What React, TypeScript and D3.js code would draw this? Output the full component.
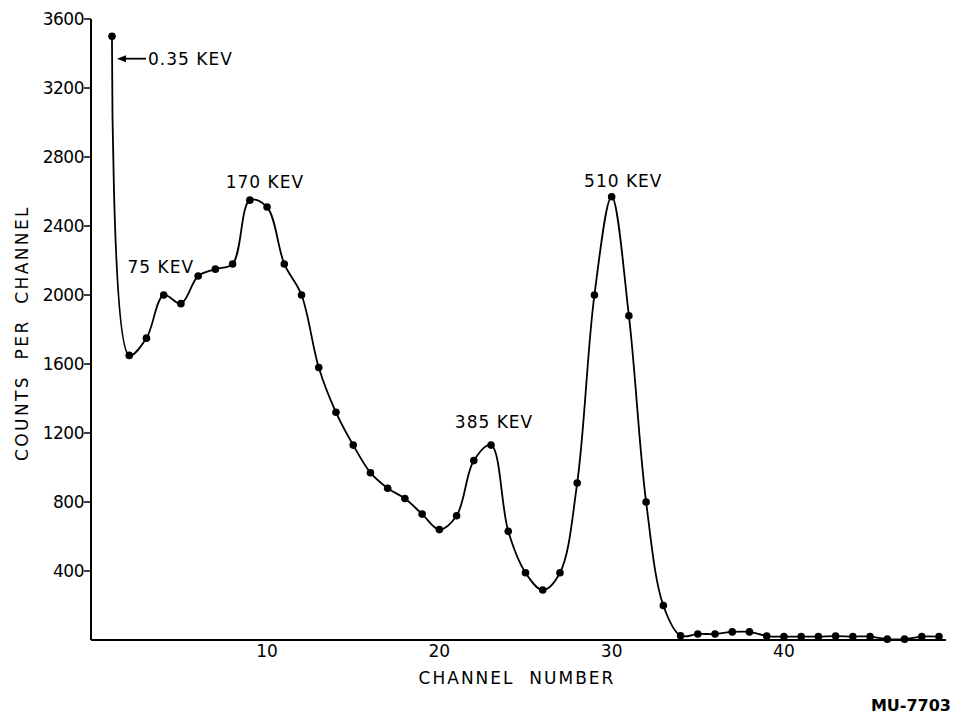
import React from "react";
import * as d3 from "d3";

const channels = [1,2,3,4,5,6,7,8,9,10,11,12,13,14,15,16,17,18,19,20,21,22,23,24,25,26,27,28,29,30,31,32,33,34,35,36,37,38,39,40,41,42,43,44,45,46,47,48,49];
const counts = [3500,1650,1750,2000,1950,2110,2150,2180,2550,2510,2180,2000,1580,1320,1130,970,880,820,730,640,720,1040,1130,630,390,290,390,910,2000,2570,1880,800,200,25,35,35,47,47,23,20,20,20,23,20,20,5,5,20,20];
const yTicks = [400,800,1200,1600,2000,2400,2800,3200,3600];
const xTicks = [10,20,30,40];
const peakLabels = [
  { text: "75 KEV", ch: 1.9, v: 2130 },
  { text: "170 KEV", ch: 7.6, v: 2620 },
  { text: "385 KEV", ch: 20.9, v: 1230 },
  { text: "510 KEV", ch: 28.4, v: 2625 },
];

export default function App() {
  const W = 961, H = 718;
  const x = d3.scaleLinear().domain([1, 49]).range([112, 939]);
  const y = d3.scaleLinear().domain([0, 3600]).range([640, 19]);
  const x0 = 91;
  const xEnd = 946;
  const pts: [number, number][] = channels.map((c, i) => [x(c), y(counts[i])]);
  const line = d3.line().curve(d3.curveCatmullRom.alpha(0.5));
  const font = "'DejaVu Sans', sans-serif";
  const arrowY = y(3370);
  const sp = "\u00a0\u00a0";
  return (
    <svg width={W} height={H} style={{ position: "absolute", left: 0, top: 0, background: "#fff" }} fontFamily={font}>
      <rect width={W} height={H} fill="#fff" />
      {/* axes */}
      <line x1={x0} y1={y(3600)} x2={x0} y2={y(0)} stroke="#000" strokeWidth={2} />
      <line x1={x0} y1={y(0)} x2={xEnd} y2={y(0)} stroke="#000" strokeWidth={2} />
      {yTicks.map((t) => (
        <g key={t}>
          <line x1={x0 - 7} x2={x0} y1={y(t)} y2={y(t)} stroke="#000" strokeWidth={1.5} />
          <text x={x0 - 7} y={y(t) + 6} textAnchor="end" fontSize={17} letterSpacing={-0.5}>{t}</text>
        </g>
      ))}
      {xTicks.map((t) => (
        <text key={t} x={x(t)} y={657} textAnchor="middle" fontSize={17}>{t}</text>
      ))}
      <text x={517} y={684} textAnchor="middle" fontSize={17} letterSpacing={2}>{`CHANNEL${sp}NUMBER`}</text>
      <text transform={`translate(28, 333) rotate(-90)`} textAnchor="middle" fontSize={17} letterSpacing={2.4}>{`COUNTS${sp}PER${sp}CHANNEL`}</text>
      {/* curve */}
      <path d={line(pts) || ""} fill="none" stroke="#000" strokeWidth={1.8} />
      {pts.map((p, i) => (
        <circle key={i} cx={p[0]} cy={p[1]} r={3.8} fill="#000" />
      ))}
      {/* annotations */}
      <line x1={x(1) + 9} x2={x(1) + 34} y1={arrowY} y2={arrowY} stroke="#000" strokeWidth={1.8} />
      <path d={`M${x(1) + 5},${arrowY} L${x(1) + 14},${arrowY - 3.5} L${x(1) + 14},${arrowY + 3.5} Z`} fill="#000" />
      <text x={x(1) + 36} y={arrowY + 6} fontSize={17} letterSpacing={1}>0.35 KEV</text>
      {peakLabels.map((l) => (
        <text key={l.text} x={x(l.ch)} y={y(l.v)} fontSize={17} letterSpacing={1}>{l.text}</text>
      ))}
      <text x={951} y={711} textAnchor="end" fontSize={16} fontWeight="bold">MU-7703</text>
    </svg>
  );
}
